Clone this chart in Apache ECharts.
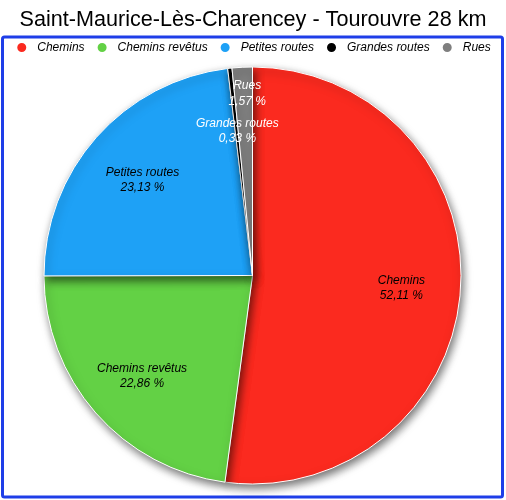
<!DOCTYPE html>
<html>
<head>
<meta charset="utf-8">
<script src="https://cdn.jsdelivr.net/npm/echarts@6/dist/echarts.min.js"></script>
<style>
html,body{margin:0;padding:0;background:#fff;}
#c{width:506px;height:500px;}
</style>
</head>
<body>
<div id="c"></div>
<script>
const titleText = 'Saint-Maurice-Lès-Charencey - Tourouvre 28 km';
const categories = ['Chemins', 'Chemins revêtus', 'Petites routes', 'Grandes routes', 'Rues'];
const values = [52.11, 22.86, 23.13, 0.33, 1.57];
const colors = ['#fb2a1f', '#63d145', '#1ea1f6', '#000000', '#7f7f7f'];
const labelColors = ['#000', '#000', '#000', '#fff', '#fff'];

const chart = echarts.init(document.getElementById('c'));
const fmt = v => v.toFixed(2).replace('.', ',') + ' %';

const data = categories.map((n, i) => ({
  name: n,
  value: values[i],
  itemStyle: { color: colors[i] },
  label: { color: labelColors[i] }
}));

chart.setOption({
  animation: false,
  title: {
    text: titleText,
    left: 'center',
    top: 4,
    textStyle: { fontFamily: 'Liberation Sans, Arial, sans-serif', fontSize: 21.6, fontWeight: 'normal', color: '#000' }
  },
  legend: {
    top: 36,
    left: 'center',
    icon: 'circle',
    itemWidth: 11,
    itemHeight: 11,
    itemGap: 11,
    data: categories,
    textStyle: { fontFamily: 'Liberation Sans, Arial, sans-serif', fontStyle: 'italic', fontSize: 12, color: '#000', padding: [0, 0, 0, 5] }
  },
  graphic: [{
    type: 'rect',
    shape: { x: 2.5, y: 37, width: 500, height: 460, r: 2 },
    style: { fill: 'none', stroke: '#1e3ee8', lineWidth: 3 },
    z: -1
  }],
  series: [{
    type: 'pie',
    center: [252.5, 275.5],
    radius: [0, 208.5],
    startAngle: 90,
    clockwise: true,
    label: { show: false },
    labelLine: { show: false },
    emphasis: { disabled: true },
    itemStyle: {
      borderColor: '#fff', borderWidth: 1,
      shadowBlur: 8, shadowColor: 'rgba(0,0,0,0.55)', shadowOffsetX: 2, shadowOffsetY: 4
    },
    data: data.map(d => ({ name: d.name, value: d.value, itemStyle: d.itemStyle }))
  }, {
    type: 'pie',
    center: [252.5, 275.5],
    radius: [82, 208.5],
    startAngle: 90,
    clockwise: true,
    silent: true,
    z: 3,
    legendHoverLink: false,
    emphasis: { disabled: true },
    labelLine: { show: false },
    label: {
      show: true,
      position: 'inside',
      fontFamily: 'Liberation Sans, Arial, sans-serif',
      fontStyle: 'italic',
      fontSize: 12,
      lineHeight: 15.5,
      formatter: p => p.name + '\n' + fmt(p.value)
    },
    labelLayout: p => (p.dataIndex === 4 ? { dx: 2, dy: -34 } : { dx: 1, dy: 3 }),
    data: data.map((d, i) => ({
      name: d.name, value: d.value,
      itemStyle: { color: 'rgba(0,0,0,0)', borderWidth: 0 },
      label: d.label
    }))
  }]
});
</script>
</body>
</html>
